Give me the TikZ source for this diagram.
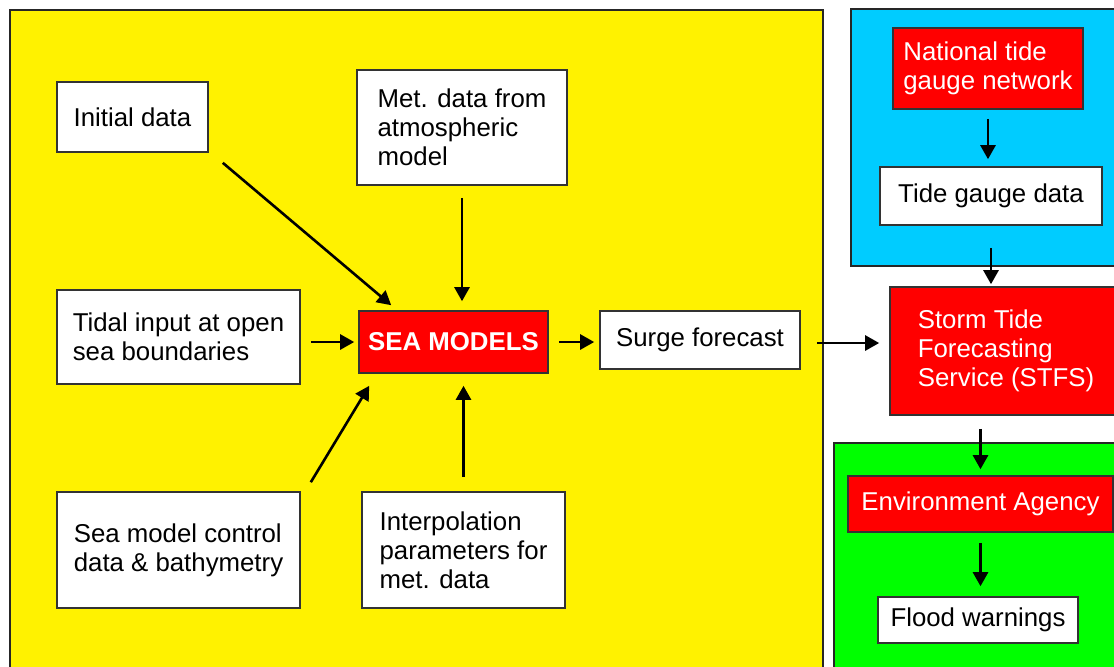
\documentclass[tikz,border=0pt]{standalone}
\usepackage{fontspec}
\setmainfont{Liberation Sans}
\usetikzlibrary{calc,arrows.meta}

\begin{document}
\begin{tikzpicture}[x=0.5pt,y=-0.5pt,
    box/.style={draw=black!80,line width=0.8pt,fill=white,align=left,inner sep=0pt,
      font=\fontsize{12.9}{14.5}\selectfont},
    redbox/.style={box,fill=red,text=white},
    arr/.style={line width=1.3pt,-{Triangle[length=7pt,width=7.5pt]}},
    panel/.style={draw=black!85,line width=1pt}]
      \path[use as bounding box,fill=white] (0,0) rectangle (1114,666);
      % background panels
      \draw[panel,fill=yellow] (10,10) rectangle (823,690);
      \draw[panel,fill={rgb,255:red,0;green,204;blue,255}] (851,9) rectangle (1130,266);
      \draw[panel,fill={rgb,255:red,0;green,255;blue,0}] (834,443) rectangle (1130,690);
      % model inputs
      \node[box,minimum width=75.5pt,minimum height=35pt] (init) at (132.5,117) {Initial data};
      \node[box,minimum width=105pt,minimum height=57.5pt] (met) at (462,127.5) {Met. data from\\atmospheric\\model};
      \node[box,minimum width=121.5pt,minimum height=47pt] (tidal) at (178.5,337) {Tidal input at open\\sea boundaries};
      \node[box,minimum width=121.5pt,minimum height=58pt] (ctrl) at (178.5,550) {Sea model control\\data \& bathymetry};
      \node[box,minimum width=101.5pt,minimum height=58pt] (interp) at (463.5,550) {Interpolation\\parameters for\\met. data};
      \node[redbox,minimum width=94.5pt,minimum height=31pt,font=\fontsize{12.9}{14.5}\selectfont\bfseries] (sea) at (453.5,342) {SEA MODELS};
      \node[box,minimum width=100pt,minimum height=29pt] (surge) at (700,340) {Surge forecast};
      % forecasting service
      \node[redbox,minimum width=95pt,minimum height=40.5pt] (nat) at (988,68.5) {National tide\\gauge network};
      \node[box,minimum width=111pt,minimum height=29pt] (tide) at (991,196) {Tide gauge data};
      \node[redbox,minimum width=116pt,minimum height=64pt] (stfs) at (1006,351) {Storm Tide\\Forecasting\\Service (STFS)};
      \node[redbox,minimum width=132.5pt,minimum height=28pt] (ea) at (980.5,504) {Environment Agency};
      \node[box,minimum width=100pt,minimum height=23pt] (flood) at (978,620) {Flood warnings};
      % connectors
      \draw[arr] ($(init.south east)+(14,10)$) -- ($(sea.north west)+(33,-5)$);
      \draw[arr,shorten <=6pt,shorten >=4.5pt] (met.south) -- (met.south |- sea.north);
      \draw[arr,shorten <=5pt,shorten >=2pt] (tidal.east |- sea.west) -- (sea.west);
      \draw[arr] ($(ctrl.north east)+(10,-9)$) -- ($(sea.south west)+(11,12)$);
      \draw[arr,shorten <=7pt,shorten >=6pt] (interp.north) -- (interp.north |- sea.south);
      \draw[arr,shorten <=5pt,shorten >=2.5pt] (sea.east) -- (sea.east -| surge.west);
      \draw[arr,shorten <=8pt,shorten >=5pt] ($(surge.east)+(0,3)$) -- ($(surge.east -| stfs.west)+(0,3)$);
      \draw[arr,shorten <=4.5pt,shorten >=3.5pt] (nat.south) -- (nat.south |- tide.north);
      \draw[arr,shorten <=11pt,shorten >=1pt] (tide.south) -- (tide.south |- stfs.north);
      \draw[arr,shorten <=6.5pt,shorten >=3pt] (ea.north |- stfs.south) -- (ea.north);
      \draw[arr,shorten <=5pt,shorten >=5pt] (ea.south) -- (ea.south |- flood.north);
\end{tikzpicture}
\end{document}
